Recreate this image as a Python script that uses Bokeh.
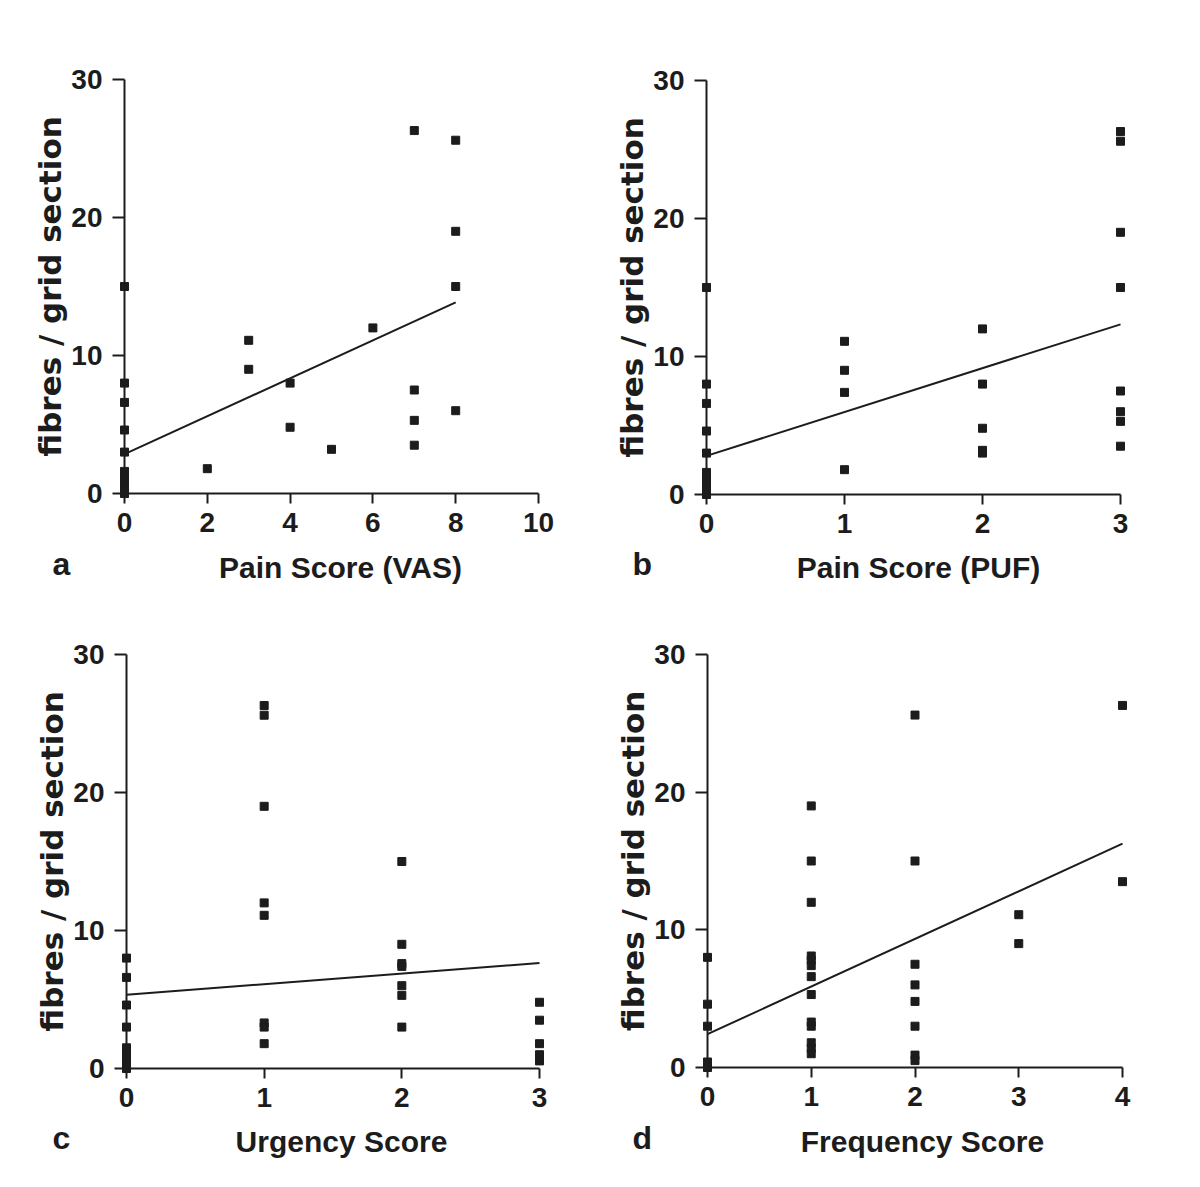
from bokeh.plotting import figure
from bokeh.layouts import column, row
from bokeh.models import Range1d, FixedTicker, LinearAxis
from bokeh.core.properties import value
from bokeh.embed import file_html
from bokeh.resources import INLINE

# ---------------- data ----------------
y_ticks = [0, 10, 20, 30]
y_label = "fibres / grid section"

# panel a: Pain Score (VAS)
a_x = [0, 0, 0, 0, 0, 0, 0, 0, 0, 0, 2, 3, 3, 4, 4, 5, 6, 7, 7, 7, 7, 8, 8, 8, 8]
a_y = [15.0, 8.0, 6.6, 4.6, 3.0, 1.6, 1.2, 0.8, 0.4, 0.0, 1.8, 11.1, 9.0, 8.0, 4.8,
       3.2, 12.0, 26.3, 7.5, 5.3, 3.5, 25.6, 19.0, 15.0, 6.0]
a_fit_x = [0, 8]
a_fit_y = [2.85, 13.85]
a_xticks = [0, 2, 4, 6, 8, 10]
a_xlabel = "Pain Score (VAS)"

# panel b: Pain Score (PUF)
b_x = [0, 0, 0, 0, 0, 0, 0, 0, 0, 0, 1, 1, 1, 1, 2, 2, 2, 2, 2, 3, 3, 3, 3, 3, 3, 3, 3]
b_y = [15.0, 8.0, 6.6, 4.6, 3.0, 1.6, 1.2, 0.8, 0.4, 0.0, 11.1, 9.0, 7.4, 1.8,
       12.0, 8.0, 4.8, 3.2, 3.0, 26.3, 25.6, 19.0, 15.0, 7.5, 6.0, 5.3, 3.5]
b_fit_x = [0, 3]
b_fit_y = [2.8, 12.33]
b_xticks = [0, 1, 2, 3]
b_xlabel = "Pain Score (PUF)"

# panel c: Urgency Score
c_x = [0, 0, 0, 0, 0, 0, 0, 0, 0, 1, 1, 1, 1, 1, 1, 1, 1, 2, 2, 2, 2, 2, 2, 2, 3, 3, 3, 3, 3]
c_y = [8.0, 6.6, 4.6, 3.0, 1.5, 1.1, 0.7, 0.35, 0.0,
       26.3, 25.6, 19.0, 12.0, 11.1, 3.3, 3.0, 1.8,
       15.0, 9.0, 7.6, 7.4, 6.0, 5.3, 3.0,
       4.8, 3.5, 1.8, 1.0, 0.55]
c_fit_x = [0, 3]
c_fit_y = [5.34, 7.64]
c_xticks = [0, 1, 2, 3]
c_xlabel = "Urgency Score"

# panel d: Frequency Score
d_x = [0, 0, 0, 0, 0, 1, 1, 1, 1, 1, 1, 1, 1, 1, 1, 1, 1, 1,
       2, 2, 2, 2, 2, 2, 2, 2, 3, 3, 4, 4]
d_y = [8.0, 4.6, 3.0, 0.4, 0.0,
       19.0, 15.0, 12.0, 8.1, 7.8, 7.4, 6.6, 5.3, 3.3, 3.0, 1.8, 1.4, 1.0,
       25.6, 15.0, 7.5, 6.0, 4.8, 3.0, 0.9, 0.5,
       11.1, 9.0, 26.3, 13.5]
d_fit_x = [0, 4]
d_fit_y = [2.42, 16.26]
d_xticks = [0, 1, 2, 3, 4]
d_xlabel = "Frequency Score"

INK = "#1c1c1c"
FONT = "Liberation Sans"
YFONT = "DejaVu Sans"


def make_plot(xs, ys, fit_x, fit_y, xticks, box, axis_px):
    fig_left, fig_top, fig_w, fig_h = box
    x0px, x1px, y30px, y0px = axis_px
    xmax = xticks[-1]
    pad = 14
    fl, fr = x0px - pad, x1px + pad
    ft, fb = y30px - pad, y0px + pad
    sx = (x1px - x0px) / xmax
    sy = (y0px - y30px) / 30.0
    p = figure(title=None, frame_width=fr - fl, frame_height=fb - ft,
               min_border_left=fl - fig_left,
               min_border_right=fig_left + fig_w - fr,
               min_border_top=ft - fig_top,
               min_border_bottom=fig_top + fig_h - fb,
               x_range=Range1d(-pad / sx, xmax + pad / sx),
               y_range=Range1d(-pad / sy, 30 + pad / sy),
               output_backend="svg", toolbar_location=None)
    p.outline_line_color = None
    p.grid.visible = False

    # text-only axes at the frame edges
    xa, ya = p.xaxis[0], p.yaxis[0]
    for ax in (xa, ya):
        ax.axis_line_color = None
        ax.major_tick_line_color = None
        ax.minor_tick_line_color = None
        ax.major_tick_out = 0
        ax.major_tick_in = 0
        ax.minor_tick_out = 0
        ax.major_label_text_font = FONT
        ax.major_label_text_font_style = "bold"
        ax.major_label_text_font_size = "28px"
        ax.major_label_text_color = INK
    xa.ticker = FixedTicker(ticks=xticks)
    xa.major_label_standoff = 5
    ya.ticker = FixedTicker(ticks=y_ticks)
    ya.major_label_standoff = 8
    ya.axis_label = y_label
    ya.axis_label_standoff = 0
    ya.axis_label_text_font = YFONT
    ya.axis_label_text_font_style = "bold"
    ya.axis_label_text_font_size = "31px"
    ya.axis_label_text_color = INK

    # axis lines and ticks sitting on the data zero lines
    lx = LinearAxis(fixed_location=0, bounds=(0, xmax),
                    ticker=FixedTicker(ticks=xticks),
                    major_tick_in=10, major_tick_out=0,
                    major_label_overrides={float(t): "" for t in xticks})
    ly = LinearAxis(fixed_location=0, bounds=(0, 30),
                    ticker=FixedTicker(ticks=y_ticks),
                    major_tick_in=12, major_tick_out=0,
                    major_label_overrides={float(t): "" for t in y_ticks})
    for ax in (lx, ly):
        ax.axis_line_width = 2
        ax.axis_line_color = INK
        ax.major_tick_line_width = 2
        ax.major_tick_line_color = INK
        ax.minor_tick_line_color = None
        ax.major_label_standoff = 0
    p.add_layout(lx, "above")
    p.add_layout(ly, "right")

    p.line(fit_x, fit_y, line_width=2, line_color=INK)
    p.scatter(xs, ys, marker="square", size=8, fill_color=INK, line_color=INK)
    return p


def make_strip(box, letter, letter_xy, xlabel, xlabel_xy):
    fig_left, fig_top, fig_w, fig_h = box
    s = figure(title=None, width=fig_w, height=fig_h,
               x_range=Range1d(fig_left, fig_left + fig_w),
               y_range=Range1d(fig_top + fig_h, fig_top),
               x_axis_location=None, y_axis_location=None,
               min_border=0, output_backend="svg", toolbar_location=None)
    s.outline_line_color = None
    s.grid.visible = False
    s.text(x=[letter_xy[0]], y=[letter_xy[1]], text=[letter],
           text_font=value(FONT), text_font_style="bold", text_font_size="32px",
           text_color=INK, text_align="left", text_baseline="middle")
    s.text(x=[xlabel_xy[0]], y=[xlabel_xy[1]], text=[xlabel],
           text_font=value(FONT), text_font_style="bold", text_font_size="30px",
           text_color=INK, text_align="center", text_baseline="middle")
    return s


pa = make_plot(a_x, a_y, a_fit_x, a_fit_y, a_xticks, (0, 0, 600, 545), (124, 538, 79, 493))
pb = make_plot(b_x, b_y, b_fit_x, b_fit_y, b_xticks, (600, 0, 600, 545), (706, 1120, 80, 494))
pc = make_plot(c_x, c_y, c_fit_x, c_fit_y, c_xticks, (0, 600, 600, 519), (126, 539, 654, 1068))
pd = make_plot(d_x, d_y, d_fit_x, d_fit_y, d_xticks, (600, 600, 600, 519), (707, 1122, 654, 1067))

sa = make_strip((0, 545, 600, 55), "a", (52, 563.5), a_xlabel, (340, 567))
sb = make_strip((600, 545, 600, 55), "b", (632, 563.5), b_xlabel, (918, 567))
sc = make_strip((0, 1119, 600, 61), "c", (52, 1137.5), c_xlabel, (341, 1141))
sd = make_strip((600, 1119, 600, 61), "d", (632, 1137.5), d_xlabel, (922, 1141))


def panel(p, s):
    return column(row(p), row(s))


layout = column(row(panel(pa, sa), panel(pb, sb)),
                row(panel(pc, sc), panel(pd, sd)))
open("out.html", "w").write(file_html(layout, INLINE))
